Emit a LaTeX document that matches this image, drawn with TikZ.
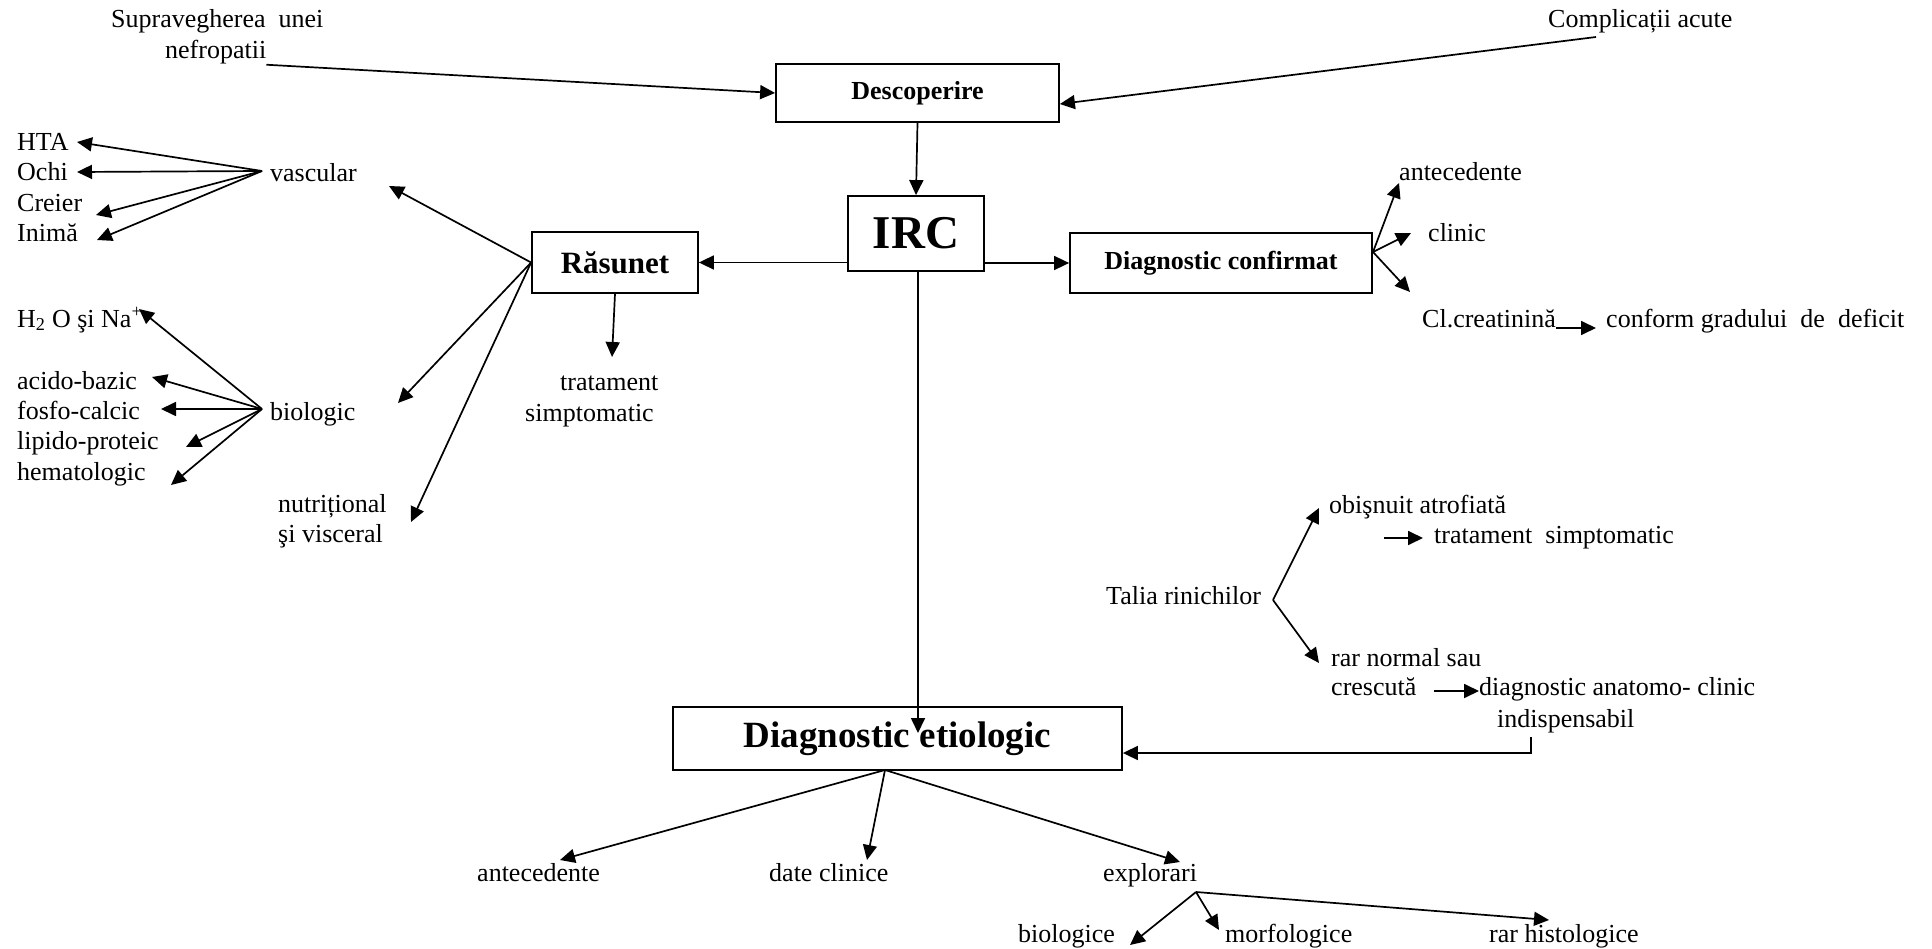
\documentclass[tikz,border=0pt]{standalone}
\usepackage{fontspec}
\setmainfont{Liberation Serif}
\usetikzlibrary{arrows.meta,calc}
\begin{document}
\begin{tikzpicture}[x=1pt,y=-1pt,
  lbl/.style={font=\fontsize{26}{31}\selectfont, inner sep=0pt, anchor=base west},
  boxn/.style={draw, line width=1.8pt, inner sep=0pt, font=\bfseries\fontsize{26}{31}\selectfont},
  arr/.style={line width=1.7pt, -{Triangle[length=15pt,width=14pt]}},
  ln/.style={line width=1.7pt}]
\useasboundingbox (0,0) rectangle (1932,949);

% boxes
\node[boxn, minimum width=283pt, minimum height=58pt] (desc) at (917.5,93) {Descoperire};
\node[boxn, minimum width=136pt, minimum height=75pt, font=\bfseries\fontsize{47}{50}\selectfont] (irc) at (916,233.5) {IRC};
\node[boxn, minimum width=166pt, minimum height=61pt, font=\bfseries\fontsize{31}{35}\selectfont] (ras) at (615,262.5) {Răsunet};
\node[boxn, minimum width=302pt, minimum height=60pt] (dc) at (1221,263) {Diagnostic confirmat};
\node[boxn, minimum width=449pt, minimum height=63pt, font=\bfseries\fontsize{37}{40}\selectfont] (de) at (897.5,738.5) {Diagnostic etiologic};

% top texts
\node[lbl] (supr1) at (111,28) {Supravegherea~~unei};
\node[lbl] (supr2) at (165,59) {nefropatii};
\node[lbl] (compl) at (1548,28) {Complicații acute};

% vascular
\node[lbl] (hta) at (17,151) {HTA};
\node[lbl] (ochi) at (17,181) {Ochi};
\node[lbl] (creier) at (17,212) {Creier};
\node[lbl] (inima) at (17,242) {Inimă};
\node[lbl] (vasc) at (270,182) {vascular};

% biologic
\node[lbl] (h2o) at (17,327) {H\textsubscript{2} O şi Na\textsuperscript{+}};
\node[lbl] (acido) at (17,389) {acido-bazic};
\node[lbl] (fosfo) at (17,419) {fosfo-calcic};
\node[lbl] (lipido) at (17,449) {lipido-proteic};
\node[lbl] (hemato) at (17,480) {hematologic};
\node[lbl] (biol) at (270,420) {biologic};
\node[lbl] (nutr1) at (278,512) {nutrițional};
\node[lbl] (nutr2) at (278,542) {şi visceral};

\node[lbl] (trat1) at (560,390) {tratament};
\node[lbl] (trat2) at (525,421) {simptomatic};

% diagnostic confirmat
\node[lbl] (antec) at (1399,181) {antecedente};
\node[lbl] (clinic) at (1428,242) {clinic};
\node[lbl] (clcr) at (1422,328) {Cl.creatinină};
\node[lbl] (conf) at (1606,328) {conform gradului~~de~~deficit};

% talia
\node[lbl] (talia) at (1106,604) {Talia rinichilor};
\node[lbl] (obis) at (1329,513) {obişnuit atrofiată};
\node[lbl] (tsimp) at (1434,543) {tratament~~simptomatic};
\node[lbl] (rar1) at (1331,666) {rar normal sau};
\node[lbl] (rar2) at (1331,695) {crescută};
\node[lbl] (dac1) at (1479,695) {diagnostic anatomo- clinic};
\node[lbl] (dac2) at (1497,727) {indispensabil};

% bottom
\node[lbl] (ante2) at (477,881) {antecedente};
\node[lbl] (date) at (769,881) {date clinice};
\node[lbl] (expl) at (1103,881) {explorari};
\node[lbl] (biolg) at (1018,942) {biologice};
\node[lbl] (morf) at (1225,942) {morfologice};
\node[lbl] (hist) at (1489,942) {rar histologice};

% coordinates
\coordinate (complS) at (1596,37);
\coordinate (vascA) at (262,171);
\coordinate (biolA) at (262,409);
\coordinate (dcA) at (1373,252);
\coordinate (taliaA) at (1273,600);
\coordinate (deA) at (885,770);
\coordinate (explA) at (1196,892);
\coordinate (deTip) at (918,733);

% connectors top
\draw[arr] (supr2.south east) -- (desc.west);
\draw[arr] (complS) -- ($(desc.east)+(0,11)$);
\draw[arr] (desc.south) -- (irc.north);
\draw[arr] (irc.west |- ras.east) -- (ras.east);
\draw[arr] (irc.east |- dc.west) -- (dc.west);
\draw[arr] (irc.south -| deTip) -- (deTip);
\draw[arr] (ras.south) -- (612,357);

% rasunet fan
\draw[arr] (ras.west) -- (389,186);
\draw[arr] (ras.west) -- (398,403);
\draw[arr] (ras.west) -- (411,522);

% vascular fan
\draw[arr] (vascA) -- (77,142);
\draw[arr] (vascA) -- (77,172);
\draw[arr] (vascA) -- (96,215);
\draw[arr] (vascA) -- (97,240);

% biologic fan
\draw[arr] (biolA) -- (139,309);
\draw[arr] (biolA) -- (152,377);
\draw[arr] (biolA) -- (161,409);
\draw[arr] (biolA) -- (186,447);
\draw[arr] (biolA) -- (171,485);

% diagnostic confirmat fan
\draw[arr] (dcA) -- (1399,183);
\draw[arr] (dcA) -- (1411,233);
\draw[arr] (dcA) -- (1410,292);
\draw[arr] (clcr.base east) -- ($(conf.base west)+(-10,0)$);

% talia
\draw[arr] (taliaA) -- (1319,508);
\draw[arr] (taliaA) -- (1319,663);
\draw[arr] (1384,538) -- ($(tsimp.west |- 0,538)+(-11,0)$);
\draw[arr] (1434,691) -- (dac1.west |- 0,691);
\draw[arr] (1531,737) -- (1531,753) -- (de.east |- 0,753);

% bottom fan
\draw[arr] (deA) -- (560,860);
\draw[arr] (deA) -- (867,860);
\draw[arr] (deA) -- (1180,862);
\draw[arr] (explA) -- (1130,945);
\draw[arr] (explA) -- (1219,930);
\draw[arr] (explA) -- (1549,920);
\end{tikzpicture}
\end{document}
